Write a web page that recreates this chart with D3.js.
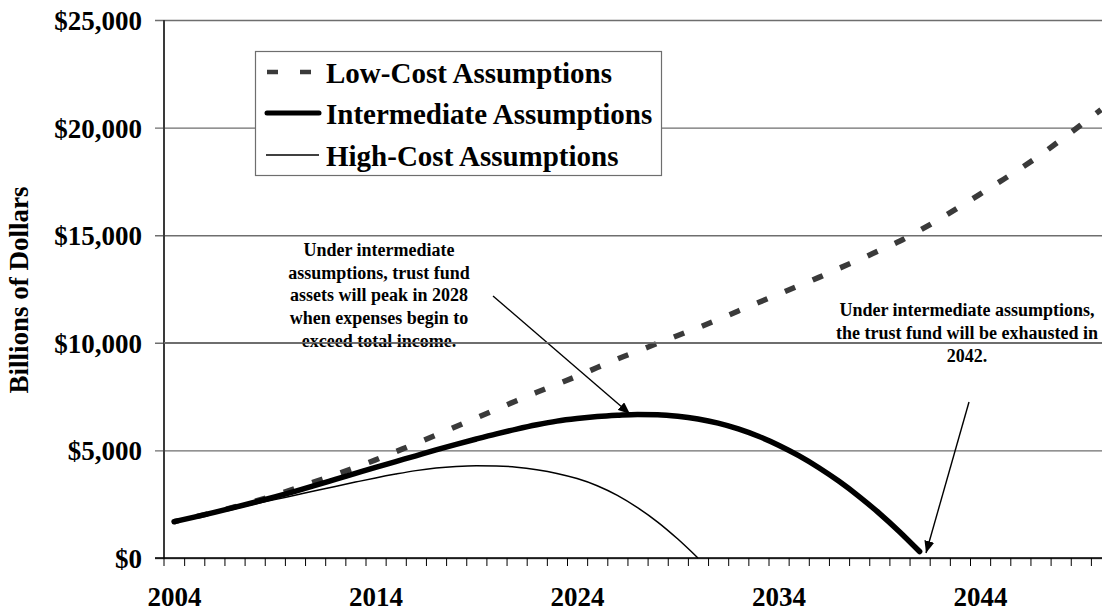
<!DOCTYPE html>
<html>
<head>
<meta charset="utf-8">
<script src="https://cdn.jsdelivr.net/npm/d3@7"></script>
<style>
  html, body { margin: 0; padding: 0; background: #fff; }
  svg { display: block; }
  text { font-family: "Liberation Serif", "Times New Roman", serif; font-weight: bold; fill: #000; }
</style>
</head>
<body>
<svg id="chart" width="1102" height="612"></svg>
<script>
// Trust fund assets, billions of dollars, end of each calendar year
const years = [2004, 2005, 2006, 2007, 2008, 2009, 2010, 2011, 2012, 2013,
  2014, 2015, 2016, 2017, 2018, 2019, 2020, 2021, 2022, 2023,
  2024, 2025, 2026, 2027, 2028, 2029, 2030, 2031, 2032, 2033,
  2034, 2035, 2036, 2037, 2038, 2039, 2040, 2041, 2042, 2043,
  2044, 2045, 2046, 2047, 2048, 2049, 2050];

const lowCost = [1687, 1900, 2130, 2370, 2630, 2910, 3230, 3550, 3870, 4210,
  4560, 4940, 5320, 5710, 6110, 6510, 6910, 7310, 7700, 8070,
  8450, 8850, 9250, 9610, 9980, 10340, 10700, 11080, 11480, 11870,
  12260, 12650, 13040, 13460, 13860, 14290, 14720, 15220, 15760, 16330,
  16910, 17500, 18100, 18730, 19420, 20120, 20830];

const intermediate = [1687, 1900, 2120, 2350, 2590, 2840, 3100, 3370, 3650, 3930,
  4210, 4480, 4750, 5020, 5280, 5530, 5770, 5990, 6190, 6360,
  6480, 6570, 6630, 6670, 6660, 6590, 6460, 6265, 5997, 5656,
  5242, 4755, 4195, 3562, 2856, 2077, 1225, 300];

const highCost = [1687, 1892, 2097, 2302, 2507, 2712, 2917, 3122, 3327, 3527,
  3722, 3900, 4060, 4180, 4255, 4290, 4280, 4220, 4100, 3930,
  3690, 3360, 2910, 2340, 1670, 880, 0];

const yTicks = [0, 5000, 10000, 15000, 20000, 25000];
const yearLabels = [2004, 2014, 2024, 2034, 2044];

const seriesNames = ["Low-Cost Assumptions", "Intermediate Assumptions", "High-Cost Assumptions"];

const noteLeft = ["Under intermediate", "assumptions, trust fund", "assets will peak in 2028",
  "when expenses begin to", "exceed total income."];
const noteRight = ["Under intermediate assumptions,", "the trust fund will be exhausted in", "2042."];

// ---- layout ----
const W = 1102, H = 612;
const plotLeft = 164, plotTop = 20, plotBottom = 558;
const yearWidth = 20.15;

const svg = d3.select("#chart");
svg.append("rect").attr("width", W).attr("height", H).attr("fill", "#fff");

// each year occupies one slot; values sit at the slot centre
const x = d3.scaleLinear()
  .domain([years[0] - 0.5, years[years.length - 1] + 0.5])
  .range([plotLeft, plotLeft + years.length * yearWidth]);
const y = d3.scaleLinear().domain([0, 25000]).range([plotBottom, plotTop]);

const fmt = d => "$" + d3.format(",")(d);

// horizontal gridlines with outward ticks
const yAxis = d3.axisLeft(y).tickValues(yTicks).tickFormat(fmt)
  .tickSizeInner(-(W - plotLeft)).tickSizeOuter(0).tickPadding(22);
const gy = svg.append("g").attr("transform", `translate(${plotLeft},0)`).call(yAxis);
gy.select(".domain").remove();
gy.selectAll(".tick line")
  .attr("x1", -9).attr("x2", W - plotLeft)
  .attr("stroke", "#6e6e6e").attr("stroke-width", 1.4);
gy.selectAll(".tick text")
  .attr("font-size", 27).attr("dy", null).attr("y", 9.5)
  .attr("fill", "#000");

// vertical axis line
svg.append("line").attr("x1", plotLeft).attr("x2", plotLeft).attr("y1", plotTop).attr("y2", plotBottom)
  .attr("stroke", "#3a3a3a").attr("stroke-width", 2);

// horizontal axis: year slot boundaries as ticks
const boundaries = years.slice(1).map(d => d - 0.5);
const xAxis = d3.axisBottom(x).tickValues(boundaries).tickFormat("")
  .tickSizeInner(8).tickSizeOuter(0);
const gx = svg.append("g").attr("transform", `translate(0,${plotBottom})`).call(xAxis);
gx.select(".domain").remove();
gx.selectAll(".tick line").attr("stroke", "#000").attr("stroke-width", 1);
svg.append("line").attr("x1", plotLeft - 9).attr("x2", W).attr("y1", plotBottom).attr("y2", plotBottom)
  .attr("stroke", "#000").attr("stroke-width", 1.6);
svg.append("line").attr("x1", plotLeft).attr("x2", plotLeft).attr("y1", plotBottom).attr("y2", plotBottom + 8)
  .attr("stroke", "#000").attr("stroke-width", 1);

const xLab = d3.axisBottom(x).tickValues(yearLabels).tickFormat(d3.format("d"))
  .tickSize(0).tickPadding(0);
const gxl = svg.append("g").attr("transform", `translate(0,${plotBottom})`).call(xLab);
gxl.select(".domain").remove();
gxl.selectAll(".tick text")
  .attr("font-size", 27).attr("dy", null).attr("y", 48)
  .attr("fill", "#000");

// axis title
svg.append("text")
  .attr("transform", "translate(28,290) rotate(-90)")
  .attr("text-anchor", "middle").attr("font-size", 27)
  .text("Billions of Dollars");

// ---- series ----
const line = d3.line().x(d => x(d[0])).y(d => y(d[1])).curve(d3.curveMonotoneX);
const pairs = arr => arr.map((v, i) => [years[i], v]);

const lowPath = svg.append("path").datum(pairs(lowCost)).attr("d", line)
  .attr("fill", "none").attr("stroke", "#3a3a3a").attr("stroke-width", 5.5)
  .attr("stroke-dasharray", "11,19");
// phase the dashes so one runs out through the right edge
const lowLen = lowPath.node().getTotalLength();
lowPath.attr("stroke-dashoffset", ((6 - lowLen) % 30 + 30) % 30);

svg.append("path").datum(pairs(intermediate)).attr("d", line)
  .attr("fill", "none").attr("stroke", "#000").attr("stroke-width", 5.5)
  .attr("stroke-linecap", "round").attr("stroke-linejoin", "round");

svg.append("path").datum(pairs(highCost)).attr("d", line)
  .attr("fill", "none").attr("stroke", "#000").attr("stroke-width", 1.5);

// ---- legend ----
const lg = svg.append("g");
lg.append("rect").attr("x", 255.5).attr("y", 51.5).attr("width", 406).attr("height", 124)
  .attr("fill", "#fff").attr("stroke", "#6e6e6e").attr("stroke-width", 1.2);
const rowsY = [72, 113, 155];
lg.append("line").attr("x1", 267).attr("x2", 320).attr("y1", rowsY[0]).attr("y2", rowsY[0])
  .attr("stroke", "#3a3a3a").attr("stroke-width", 4.5).attr("stroke-dasharray", "11,22");
lg.append("line").attr("x1", 267).attr("x2", 319).attr("y1", rowsY[1]).attr("y2", rowsY[1])
  .attr("stroke", "#000").attr("stroke-width", 5).attr("stroke-linecap", "round");
lg.append("line").attr("x1", 266).attr("x2", 319).attr("y1", rowsY[2]).attr("y2", rowsY[2])
  .attr("stroke", "#000").attr("stroke-width", 1.5);
lg.selectAll("text.leg").data(seriesNames).join("text").attr("class", "leg")
  .attr("x", 326).attr("y", (d, i) => rowsY[i] + 10.5)
  .attr("font-size", 29).text(d => d);

// ---- notes and arrows ----
const defs = svg.append("defs");
defs.append("marker").attr("id", "head").attr("viewBox", "0 0 12 10")
  .attr("refX", 12).attr("refY", 5).attr("markerWidth", 12).attr("markerHeight", 10)
  .attr("markerUnits", "userSpaceOnUse").attr("orient", "auto")
  .append("path").attr("d", "M0,0 L12,5 L0,10 Z").attr("fill", "#000");

svg.append("g").selectAll("text").data(noteLeft).join("text")
  .attr("x", 379).attr("y", (d, i) => 256 + i * 22.7)
  .attr("text-anchor", "middle").attr("font-size", 18).text(d => d);

svg.append("g").selectAll("text").data(noteRight).join("text")
  .attr("x", 967).attr("y", (d, i) => 316 + i * 23)
  .attr("text-anchor", "middle").attr("font-size", 18).text(d => d);

svg.append("line").attr("x1", 493).attr("y1", 296).attr("x2", 630).attr("y2", 414)
  .attr("stroke", "#000").attr("stroke-width", 1.4).attr("marker-end", "url(#head)");
svg.append("line").attr("x1", 969).attr("y1", 402).attr("x2", 926).attr("y2", 553)
  .attr("stroke", "#000").attr("stroke-width", 1.4).attr("marker-end", "url(#head)");

// the $10,000 gridline runs across the note text
svg.append("line").attr("x1", plotLeft).attr("x2", W).attr("y1", y(10000)).attr("y2", y(10000))
  .attr("stroke", "#6e6e6e").attr("stroke-width", 1.4);
</script>
</body>
</html>
